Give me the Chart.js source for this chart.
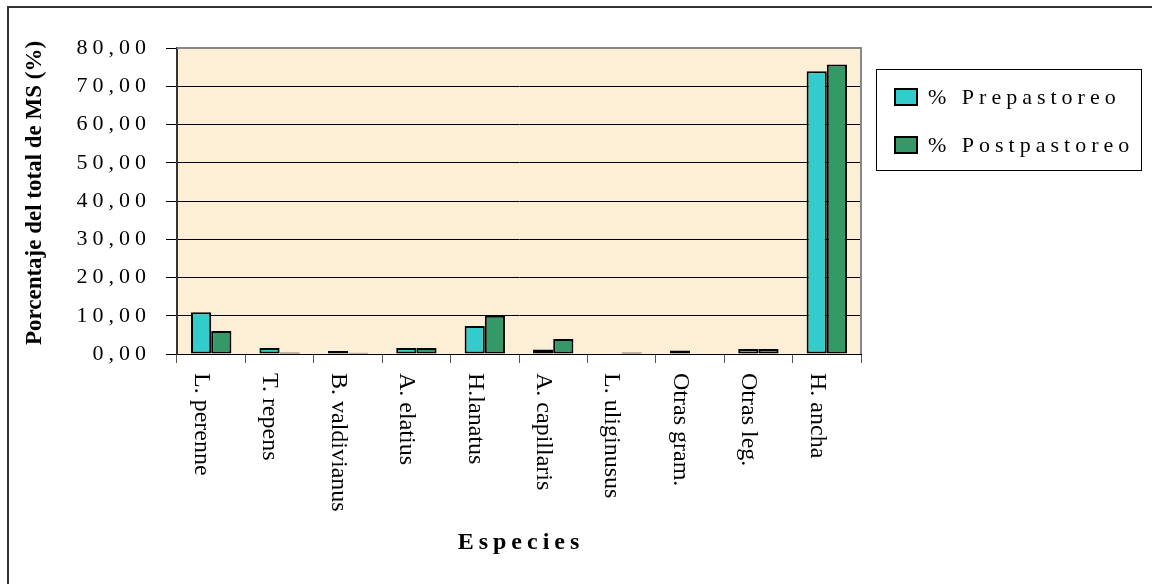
<!DOCTYPE html>
<html>
<head>
<meta charset="utf-8">
<script src="https://cdn.jsdelivr.net/npm/chart.js@4.4.1/dist/chart.umd.min.js"></script>
<style>
  html, body { margin: 0; padding: 0; background: #ffffff; }
  #wrap { width: 1152px; height: 584px; position: relative; }
</style>
</head>
<body>
<div id="wrap"><canvas id="c" width="1152" height="584"></canvas></div>
<script>
const categories = ['L. perenne', 'T. repens', 'B. valdivianus', 'A. elatius', 'H.lanatus', 'A. capillaris', 'L. uliginusus', 'Otras gram.', 'Otras leg.', 'H. ancha'];
const prepastoreo = [10.9, 1.6, 0.8, 1.6, 7.3, 1.2, 0.0, 0.9, 1.3, 73.9];
const postpastoreo = [6.0, 0.4, 0.3, 1.6, 10.0, 3.9, 0.4, 0.0, 1.3, 75.7];
const seriesNames = ['% Prepastoreo', '% Postpastoreo'];
const seriesColors = ['#33CCCC', '#339966'];
const yTickValues = [0, 10, 20, 30, 40, 50, 60, 70, 80];
const yTitle = 'Porcentaje del total de MS (%)';
const xTitle = 'Especies';

const SERIF = '"Liberation Serif", "Times New Roman", serif';

const decorPlugin = {
  id: 'decor',
  beforeDraw(chart) {
    const {ctx, chartArea: a} = chart;
    ctx.save();
    ctx.fillStyle = '#ffffff';
    ctx.fillRect(0, 0, chart.width, chart.height);
    ctx.fillStyle = '#FCEFD6';
    ctx.fillRect(a.left, a.top, a.right - a.left, a.bottom - a.top);
    ctx.strokeStyle = '#333333';
    ctx.lineWidth = 2;
    ctx.beginPath();
    ctx.moveTo(8, chart.height);
    ctx.lineTo(8, 7);
    ctx.lineTo(chart.width, 7);
    ctx.stroke();
    ctx.restore();
    const ys = chart.scales.y, xs = chart.scales.x;
    if (ys && !ys._lsPatched) {
      const orig = ys.drawLabels;
      ys.drawLabels = function (area) {
        this.ctx.save(); this.ctx.letterSpacing = '5px'; orig.call(this, area); this.ctx.restore();
      };
      const origYT = ys.drawTitle;
      ys.drawTitle = function () {
        this.ctx.save(); this.ctx.translate(0, -8); origYT.call(this); this.ctx.restore();
      };
      ys._lsPatched = true;
    }
    if (xs && !xs._lsPatched) {
      const origT = xs.drawTitle;
      xs.drawTitle = function () {
        this.ctx.save(); this.ctx.letterSpacing = '5px'; this.ctx.translate(2, 0); origT.call(this); this.ctx.restore();
      };
      xs._lsPatched = true;
    }
  },
  afterDatasetsDraw(chart) {
    const {ctx, chartArea: a} = chart;
    ctx.save();
    ctx.strokeStyle = '#888888';
    ctx.lineWidth = 2;
    ctx.beginPath();
    ctx.moveTo(a.left, a.top);
    ctx.lineTo(a.right, a.top);
    ctx.lineTo(a.right, a.bottom);
    ctx.stroke();
    ctx.restore();
  },
  afterDraw(chart) {
    const {ctx, chartArea: a} = chart;
    const xs = chart.scales.x;
    ctx.save();
    ctx.fillStyle = '#000000';
    ctx.font = '24px ' + SERIF;
    ctx.textAlign = 'left';
    ctx.textBaseline = 'middle';
    chart.data.labels.forEach((lab, i) => {
      const x = xs.getPixelForValue(i) - 10;
      ctx.save();
      ctx.translate(x, a.bottom + 19);
      ctx.rotate(Math.PI / 2);
      ctx.fillText(lab, 0, 0);
      ctx.restore();
    });
    const lx = 876, ly = 69, lw = 265, lh = 101;
    ctx.strokeStyle = '#000000';
    ctx.lineWidth = 1;
    ctx.strokeRect(lx + 0.5, ly + 0.5, lw, lh);
    ctx.font = '22px ' + SERIF;
    ctx.letterSpacing = '5px';
    const rows = [97, 145];
    chart.data.datasets.forEach((ds, i) => {
      const cy = rows[i];
      ctx.fillStyle = ds.backgroundColor;
      ctx.fillRect(895, cy - 8, 22, 16);
      ctx.strokeStyle = '#000000';
      ctx.lineWidth = 2;
      ctx.strokeRect(895, cy - 8, 22, 16);
      ctx.fillStyle = '#000000';
      ctx.textAlign = 'left';
      ctx.textBaseline = 'middle';
      ctx.fillText(ds.label, 928, cy + 1);
    });
    ctx.restore();
  }
};

new Chart(document.getElementById('c'), {
  type: 'bar',
  data: {
    labels: categories,
    datasets: [
      { label: seriesNames[0], data: prepastoreo, backgroundColor: seriesColors[0] },
      { label: seriesNames[1], data: postpastoreo, backgroundColor: seriesColors[1] }
    ]
  },
  options: {
    responsive: false,
    animation: false,
    devicePixelRatio: 1,
    layout: { padding: { top: 48, right: 291, bottom: 0, left: 0 } },
    datasets: {
      bar: {
        categoryPercentage: 0.59,
        barPercentage: 1.0,
        borderColor: '#000000',
        borderWidth: 2,
        borderSkipped: false
      }
    },
    plugins: {
      legend: { display: false },
      tooltip: { enabled: false }
    },
    scales: {
      x: {
        offset: true,
        grid: {
          display: true,
          drawOnChartArea: false,
          drawTicks: true,
          tickLength: 9,
          color: '#555555',
          offset: true
        },
        border: { display: true, color: '#000000', width: 1 },
        ticks: { display: false },
        title: {
          display: true,
          text: xTitle,
          color: '#000000',
          font: { family: SERIF, size: 24, weight: 'bold' },
          padding: { top: 0, bottom: 27 }
        },
        afterFit(scale) { scale.height = 230; }
      },
      y: {
        min: 0,
        max: 80,
        afterBuildTicks(scale) { scale.ticks = yTickValues.map(v => ({ value: v })); },
        grid: {
          color: '#000000',
          lineWidth: 1,
          drawTicks: true,
          tickLength: 11,
          tickColor: '#000000'
        },
        border: { display: true, color: '#333333', width: 2 },
        ticks: {
          color: '#000000',
          padding: 15,
          font: { family: SERIF, size: 22 },
          callback: (v) => Number(v).toFixed(2).replace('.', ',')
        },
        title: {
          display: true,
          text: yTitle,
          color: '#000000',
          font: { family: SERIF, size: 23, weight: 'bold' },
          padding: { top: 21, bottom: 0 }
        },
        afterFit(scale) { scale.width = 177; }
      }
    }
  },
  plugins: [decorPlugin]
});
</script>
</body>
</html>
